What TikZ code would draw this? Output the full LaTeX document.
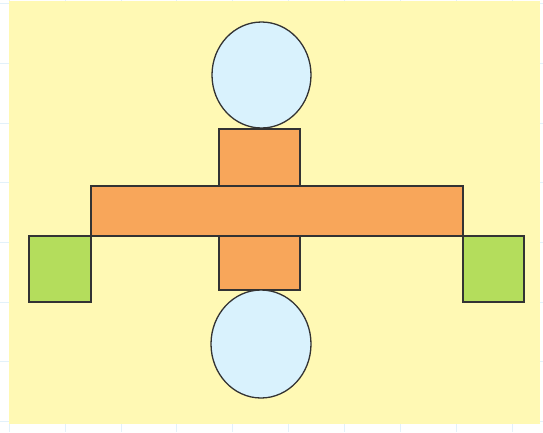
\documentclass[tikz,border=0pt]{standalone}
\definecolor{bgyellow}{HTML}{FFF9B4}
\definecolor{orangef}{HTML}{F8A65A}
\definecolor{bluef}{HTML}{D9F2FD}
\definecolor{greenf}{HTML}{B4DD5C}
\definecolor{edge}{HTML}{333333}
\definecolor{gridc}{HTML}{E3F1FA}
\tikzset{
  part/.style={draw=edge, line width=1.3pt, line join=miter},
  orangepart/.style={part, fill=orangef},
  bluepart/.style={part, fill=bluef},
  greenpart/.style={part, fill=greenf},
}
\begin{document}
\begin{tikzpicture}[x=1pt,y=-1pt]
\useasboundingbox (0,0) rectangle (543,432);
\fill[white] (0,0) rectangle (543,432);
% faint grid in the margins
\foreach \gx in {9.1,65,120.9,176.8,232.7,288.6,344.5,400.4,456.3,512.2}
  \draw[gridc, line width=0.8pt] (\gx,0) -- (\gx,432);
\foreach \gy in {3.5,63.2,122.9,182.6,242.3,302,361.7,421.4}
  \draw[gridc, line width=0.8pt] (0,\gy) -- (543,\gy);
% background
\fill[bgyellow] (9,1) rectangle (540,424);
% vertical block
\draw[orangepart] (219,129) rectangle (300,290);
% horizontal bar
\draw[orangepart] (91,186) rectangle (463,236);
% green squares
\draw[greenpart] (29,236) rectangle (91,302);
\draw[greenpart] (463,236) rectangle (524,302);
% circles
\draw[bluepart] (261.5,75) ellipse [x radius=49.5, y radius=53];
\draw[bluepart] (261,344) ellipse [x radius=50, y radius=54];
\end{tikzpicture}
\end{document}
